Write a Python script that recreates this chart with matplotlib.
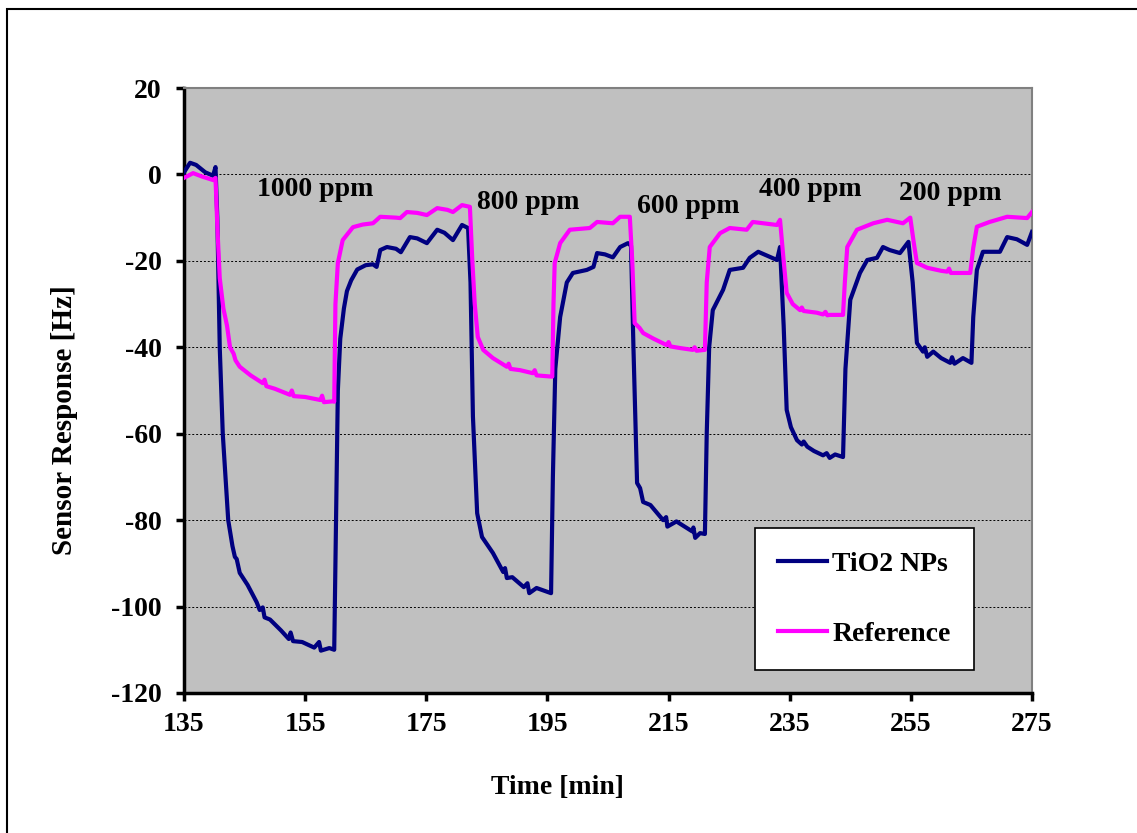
import matplotlib.pyplot as plt
from matplotlib.patches import Rectangle

# TiO2 NPs sensor (navy)
tio2_time = [135.0, 136.0, 137.0, 138.5, 139.8, 140.2, 140.5, 140.9, 141.4, 142.3,
             143.0, 143.4, 143.7, 144.2, 145.5, 147.0, 147.5, 148.0, 148.3, 149.2,
             151.0, 152.3, 152.6, 153.0, 154.5, 156.5, 157.3, 157.6, 159.0, 159.8,
             160.1, 160.4, 160.8, 161.4, 161.9, 162.6, 163.6, 165.0, 166.2, 166.8,
             167.4, 168.5, 170.0, 170.8, 172.3, 173.5, 175.1, 176.8, 178.0, 179.4,
             180.9, 181.9, 182.3, 182.7, 183.4, 184.2, 186.0, 187.7, 188.0, 188.3,
             189.2, 191.1, 191.7, 192.0, 193.2, 195.6, 195.9, 196.3, 197.1, 198.2,
             199.2, 201.5, 202.6, 203.2, 204.5, 205.8, 207.0, 208.3, 208.8, 209.2,
             209.8, 210.3, 210.8, 212.0, 214.1, 214.6, 214.8, 216.3, 218.9, 219.1,
             219.4, 220.2, 221.0, 221.3, 221.7, 222.3, 224.0, 225.1, 227.3, 228.4,
             229.8, 232.9, 233.4, 234.0, 234.5, 235.2, 236.2, 237.0, 237.3, 237.9,
             239.0, 240.5, 241.1, 241.6, 242.5, 243.8, 244.2, 245.0, 246.6, 247.8,
             249.4, 250.4, 251.5, 253.2, 254.6, 255.3, 256.0, 257.0, 257.3, 257.7,
             258.7, 260.0, 261.5, 261.8, 262.2, 263.6, 265.0, 265.3, 265.9, 266.9,
             269.7, 270.9, 272.5, 274.2, 275.0]
tio2_resp = [0.5, 2.7, 2.2, 0.5, -0.3, 1.7, -10, -40, -60, -80,
             -86, -88.5, -89, -92.2, -95, -99, -100.8, -100.2, -102.5, -103,
             -105.5, -107.5, -106, -108, -108.2, -109.5, -108.2, -110.2, -109.6, -110,
             -80, -50, -38, -31, -27, -24.5, -22, -21, -20.8, -21.4,
             -17.5, -16.8, -17.2, -18, -14.5, -14.8, -15.9, -12.8, -13.5, -15.2,
             -11.7, -12.4, -25, -56, -78.4, -83.9, -87.6, -92, -91.1, -93.4,
             -93.2, -95.5, -94.6, -96.9, -95.7, -96.9, -70, -45, -33, -25,
             -22.8, -22.1, -21.4, -18.2, -18.5, -19.2, -16.8, -15.9, -16.5, -40,
             -71.4, -72.6, -75.8, -76.5, -80, -79.3, -81.5, -80.3, -82.6, -81.7,
             -84.1, -83, -83.2, -60, -40, -31.4, -26.7, -22.1, -21.6, -19.3,
             -17.9, -19.8, -16.8, -35, -54.5, -58.5, -61.5, -62.5, -61.8, -63,
             -64, -65, -64.5, -65.6, -64.8, -65.4, -45, -29, -22.8, -19.8,
             -19.3, -16.8, -17.5, -18.2, -15.6, -25, -39, -41, -40, -42.2,
             -41, -42.5, -43.6, -42.3, -43.8, -42.5, -43.6, -33, -22.1, -17.9,
             -17.9, -14.5, -15.0, -16.3, -13.3]

# Reference sensor (magenta)
ref_time = [135.0, 136.5, 138.0, 139.8, 140.2, 140.5, 140.9, 141.5, 142.1, 142.6,
            143.2, 143.5, 144.2, 146.0, 148.0, 148.3, 148.6, 150.0, 152.5, 152.8,
            153.1, 155.0, 157.5, 157.8, 158.1, 159.6, 159.8, 160.0, 160.4, 161.2,
            162.9, 164.5, 166.2, 167.4, 170.0, 170.7, 171.8, 173.5, 175.1, 176.8,
            178.5, 179.4, 180.9, 182.2, 182.6, 183.0, 183.5, 184.4, 186.0, 188.3,
            188.6, 188.9, 190.5, 192.6, 192.9, 193.2, 195.8, 196.0, 196.2, 197.1,
            198.7, 202.0, 203.2, 205.8, 207.0, 208.6, 209.0, 209.4, 210.2, 210.8,
            212.5, 214.7, 215.0, 215.3, 217.0, 219.0, 219.3, 219.6, 221.0, 221.3,
            221.8, 223.5, 225.1, 227.9, 228.9, 232.9, 233.4, 234.0, 234.5, 235.5,
            236.7, 237.0, 237.3, 239.5, 240.5, 240.9, 241.2, 241.6, 243.8, 244.1,
            244.5, 246.1, 248.8, 251.1, 253.7, 254.9, 255.5, 256.0, 256.8, 257.7,
            260.0, 261.0, 261.3, 261.6, 262.0, 264.8, 265.3, 265.9, 268.0, 270.9,
            274.2, 275.0]
ref_resp = [-0.8, 0.3, -0.5, -1.3, -0.8, -12, -24, -31, -35, -40,
            -41.5, -43, -44.5, -46.5, -48.3, -47.5, -49, -49.6, -51, -50,
            -51.3, -51.5, -52.2, -51.2, -52.7, -52.5, -52.6, -30, -20.5, -15.2,
            -12.2, -11.6, -11.3, -9.8, -10, -10.1, -8.7, -8.9, -9.4, -7.8,
            -8.2, -8.7, -7.1, -7.5, -20, -30, -37.6, -40.6, -42.5, -44.5,
            -43.8, -45, -45.3, -46, -45.3, -46.5, -46.8, -30, -20.5, -15.9,
            -12.8, -12.4, -11, -11.3, -9.8, -9.8, -20, -34.4, -35.5, -36.7,
            -38, -39.5, -38.8, -39.8, -40.2, -40.6, -40, -40.8, -40.6, -25,
            -16.8, -13.6, -12.4, -12.8, -11, -11.7, -10.5, -20, -27.4, -30,
            -31.4, -30.8, -31.6, -32, -32.4, -31.8, -32.6, -32.5, -32.5, -25,
            -16.8, -12.8, -11.3, -10.5, -11.3, -10, -16, -20.5, -21, -21.6,
            -22.3, -22.5, -21.8, -22.8, -22.8, -22.8, -17, -12.1, -11, -9.8,
            -10.1, -8.7]

# concentration labels
conc_labels = ['1000 ppm', '800 ppm', '600 ppm', '400 ppm', '200 ppm']
conc_x = [156.6, 191.8, 218.2, 238.4, 261.5]
conc_y = [-3.6, -6.4, -7.5, -3.4, -4.3]

x_ticks = [135, 155, 175, 195, 215, 235, 255, 275]
y_ticks = [20, 0, -20, -40, -60, -80, -100, -120]

plt.rcParams['font.family'] = ['Liberation Serif', 'DejaVu Serif']
plt.rcParams['font.weight'] = 'bold'
plt.rcParams['axes.unicode_minus'] = False

fig = plt.figure(figsize=(11.37, 8.33), dpi=100)
# outer frame (only left and top edges are inside the picture)
fig.patches.append(Rectangle((7/1137, -0.1), 1.2, 1.1 - 9/833, transform=fig.transFigure,
                             fill=False, edgecolor='black', linewidth=1.5))

ax = fig.add_axes([184/1137, 1 - 693/833, 848/1137, 605/833])
ax.set_facecolor('#C0C0C0')

for yv in y_ticks[1:-1]:
    ax.axhline(yv, color='black', linestyle=(0, (2, 2)), linewidth=0.7, zorder=1)

ax.plot(tio2_time, tio2_resp, color='#000080', linewidth=3, label='TiO2 NPs', zorder=3)
ax.plot(ref_time, ref_resp, color='#FF00FF', linewidth=3, label='Reference', zorder=3)

for lab, xx, yy in zip(conc_labels, conc_x, conc_y):
    ax.text(xx, yy, lab, ha='center', va='center', fontsize=20, fontweight='bold')

ax.set_xlim(135, 275)
ax.set_ylim(-120, 20)
ax.set_xticks(x_ticks)
ax.set_yticks(y_ticks)

for s in ['top', 'right']:
    ax.spines[s].set_color('#808080')
    ax.spines[s].set_linewidth(1.5)
for s in ['left', 'bottom']:
    ax.spines[s].set_color('black')
    ax.spines[s].set_linewidth(2.5)
ax.tick_params(axis='both', direction='out', length=6, width=2.5, labelsize=20)
ax.tick_params(axis='y', pad=10)
ax.tick_params(axis='x', pad=8)

ax.set_xlabel('Time [min]', fontsize=20, fontweight='bold')
ax.xaxis.set_label_coords(0.44, -0.135)
ax.set_ylabel('Sensor Response [Hz]', fontsize=21, fontweight='bold')
ax.yaxis.set_label_coords(-0.125, 0.451)

leg = ax.legend(loc='upper left', bbox_to_anchor=(0.673, 0.273), fontsize=20,
                fancybox=False, edgecolor='black', framealpha=1, handlelength=1.75,
                handletextpad=0.2, labelspacing=1.6, borderpad=0.85, borderaxespad=0)
leg.get_frame().set_linewidth(1.2)

fig.savefig('out.png', dpi=100)
